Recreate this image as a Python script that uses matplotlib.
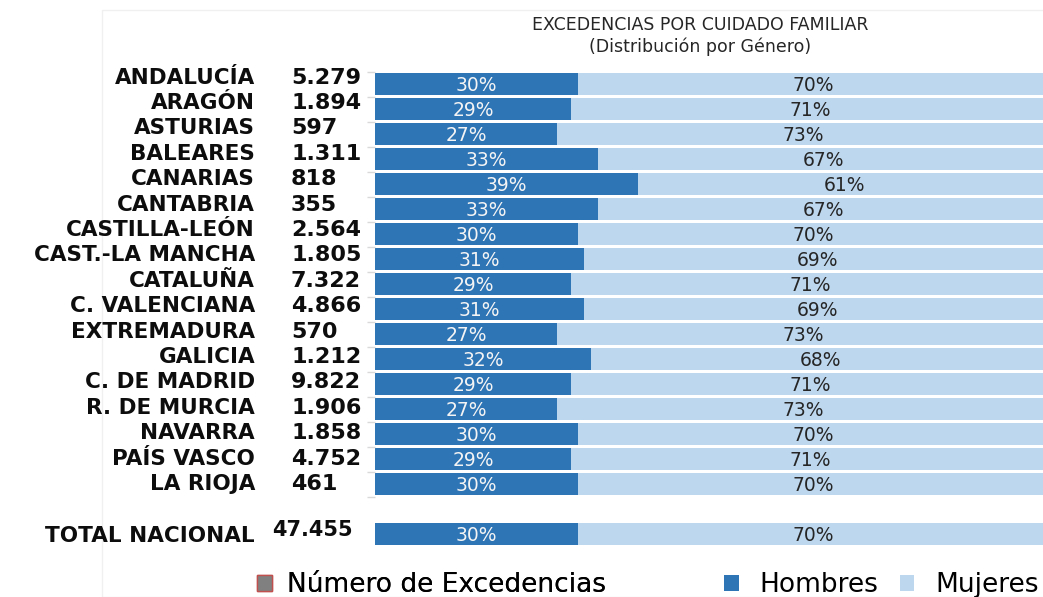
import numpy as np
import matplotlib.pyplot as plt
from matplotlib.patches import Patch, Rectangle
from matplotlib.transforms import blended_transform_factory

plt.rcParams['font.family'] = ['DejaVu Sans']

regiones = ['ANDALUCÍA', 'ARAGÓN', 'ASTURIAS', 'BALEARES', 'CANARIAS', 'CANTABRIA',
            'CASTILLA-LEÓN', 'CAST.-LA MANCHA', 'CATALUÑA', 'C. VALENCIANA',
            'EXTREMADURA', 'GALICIA', 'C. DE MADRID', 'R. DE MURCIA', 'NAVARRA',
            'PAÍS VASCO', 'LA RIOJA']
excedencias = [5279, 1894, 597, 1311, 818, 355, 2564, 1805, 7322, 4866,
               570, 1212, 9822, 1906, 1858, 4752, 461]
hombres = [30, 29, 27, 33, 39, 33, 30, 31, 29, 31, 27, 32, 29, 27, 30, 29, 30]
mujeres = [70, 71, 73, 67, 61, 67, 70, 69, 71, 69, 73, 68, 71, 73, 70, 71, 70]

total_label = 'TOTAL NACIONAL'
total_exc = 47455
total_h = 30
total_m = 70

c_h = '#2E75B6'
c_m = '#BDD7EE'


def fmt(n):
    return f'{n:,}'.replace(',', '.')


W, H = 1043, 597
fig = plt.figure(figsize=(W / 100, H / 100), dpi=100)
fig.patches.append(Rectangle((102 / W, 0), 1, 1 - 10 / H, transform=fig.transFigure,
                             fill=False, edgecolor='#f0f0f0', lw=1))

top = 1 - 71.5 / H
bottom = 1 - 546.5 / H
ax = fig.add_axes([375 / W, bottom, (1050 - 375) / W, top - bottom])

ypos = list(range(len(regiones))) + [len(regiones) + 1]
h_all = hombres + [total_h]
m_all = mujeres + [total_m]

ax.barh(ypos, h_all, height=0.88, color=c_h)
ax.barh(ypos, m_all, left=h_all, height=0.88, color=c_m)

for y, h, m in zip(ypos, h_all, m_all):
    ax.text(h / 2, y + 0.05, f'{h}%', ha='center', va='center', color='#f4f4f4', fontsize=13.5)
    ax.text(h + m / 2, y + 0.05, f'{m}%', ha='center', va='center', color='#262626', fontsize=13.5)

ax.set_xlim(0, 100)
ax.set_ylim(len(regiones) + 1.5, -0.5)
for s in ax.spines.values():
    s.set_visible(False)
ax.set_xticks([])
ax.set_yticks([])
ax.set_yticks(np.arange(-0.5, len(regiones) + 0.5, 1), minor=True)
ax.tick_params(axis='y', which='minor', length=6, color='#d9d9d9', width=1)

tr = blended_transform_factory(fig.transFigure, ax.transData)
for i, (r, n) in enumerate(zip(regiones, excedencias)):
    yl = -0.26 + i * 1.0164
    fig.text(255 / W, yl, r, transform=tr, ha='right', va='center',
             fontsize=15.5, fontweight='bold', color='#0d0d0d')
    fig.text(291 / W, yl, fmt(n), transform=tr, ha='left', va='center',
             fontsize=16, fontweight='bold', color='#0d0d0d')
fig.text(255 / W, ypos[-1] + 0.08, total_label, transform=tr, ha='right', va='center',
         fontsize=15.5, fontweight='bold', color='#0d0d0d')
fig.text(272 / W, ypos[-1] - 0.15, fmt(total_exc), transform=tr, ha='left', va='center',
         fontsize=15, fontweight='bold', color='#0d0d0d')

fig.text(700 / W, 1 - 25 / H, 'EXCEDENCIAS POR CUIDADO FAMILIAR', ha='center', va='center',
         fontsize=12.5, color='#262626')
fig.text(700 / W, 1 - 47 / H, '(Distribución por Género)', ha='center', va='center',
         fontsize=12.5, color='#262626')

leg1 = fig.legend(handles=[Patch(facecolor='#808080', edgecolor='#C0504D', label='Número de Excedencias')],
                  loc='center left', bbox_to_anchor=(257 / W, 1 - 585 / H), frameon=False,
                  fontsize=19, handlelength=0.55, handleheight=0.55, handletextpad=0.6,
                  borderpad=0, borderaxespad=0)
fig.add_artist(leg1)
fig.legend(handles=[Patch(facecolor=c_h, label='Hombres'), Patch(facecolor=c_m, label='Mujeres')],
           loc='center left', bbox_to_anchor=(724 / W, 1 - 585 / H), frameon=False, ncol=2,
           fontsize=19, handlelength=0.55, handleheight=0.55, handletextpad=0.8,
           columnspacing=0.8, borderpad=0, borderaxespad=0)

fig.savefig('out.png', dpi=100)
